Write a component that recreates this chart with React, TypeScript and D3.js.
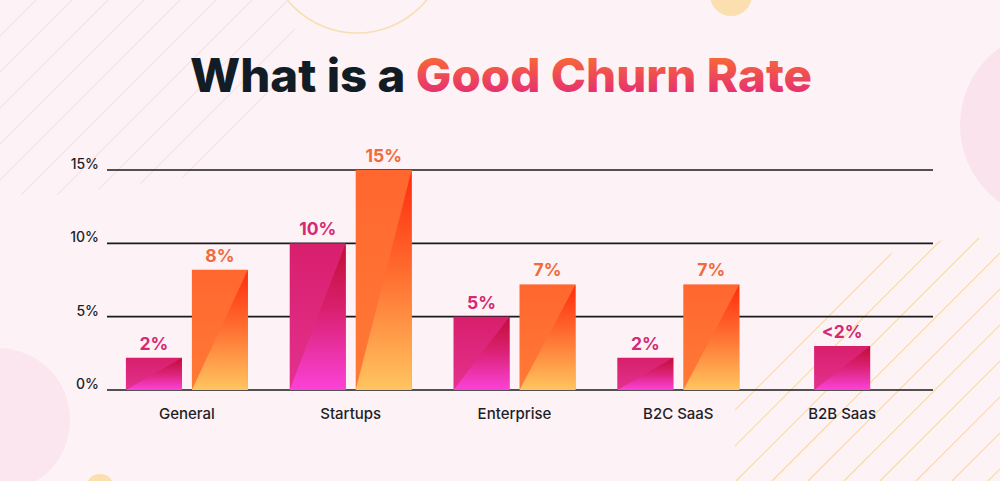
import React from "react";
import * as d3 from "d3";

const categories = ["General", "Startups", "Enterprise", "B2C SaaS", "B2B Saas"];
const pinkValues: number[] = [2.2, 10, 5, 2.2, 3];
const orangeValues: (number | null)[] = [8.2, 15, 7.2, 7.2, null];
const pinkLabels = ["2%", "10%", "5%", "2%", "<2%"];
const orangeLabels = ["8%", "15%", "7%", "7%", ""];
const yTicks = [0, 5, 10, 15];
const titleDark = "What is a ";
const titleColor = "Good Churn Rate";

const W = 1000;
const H = 481;
const FONT = "Inter, 'Open Sans', Lato, sans-serif";

export default function App() {
  const x = d3.scaleBand<string>().domain(categories).range([105, 924]).padding(0);
  const y = d3.scaleLinear().domain([0, 15]).range([390, 170]);
  const barW = 56;
  const gap = 10;

  const bars: { x0: number; v: number; kind: "pink" | "orange"; label: string }[] = [];
  categories.forEach((c, i) => {
    const cx = (x(c) as number) + x.bandwidth() / 2;
    const ov = orangeValues[i];
    if (ov == null) {
      bars.push({ x0: cx - barW / 2, v: pinkValues[i], kind: "pink", label: pinkLabels[i] });
    } else {
      bars.push({ x0: cx - gap / 2 - barW, v: pinkValues[i], kind: "pink", label: pinkLabels[i] });
      bars.push({ x0: cx + gap / 2, v: ov, kind: "orange", label: orangeLabels[i] });
    }
  });

  const tlLines = d3.range(-200, 500, 36);
  const brLines = d3.range(600, 1500, 36);

  return (
    <svg width={W} height={H} style={{ display: "block", position: "absolute", left: 0, top: 0 }}>
      <defs>
        <linearGradient id="pinkBase" x1="0" y1="0" x2="0" y2="1">
          <stop offset="0" stopColor="#d81f6c" />
          <stop offset="1" stopColor="#e3318f" />
        </linearGradient>
        <linearGradient id="pinkTri" x1="0" y1="0" x2="0" y2="1">
          <stop offset="0" stopColor="#c20d35" />
          <stop offset="0.45" stopColor="#d92070" />
          <stop offset="1" stopColor="#fb42d8" />
        </linearGradient>
        <linearGradient id="orangeBase" x1="0" y1="0" x2="0" y2="1">
          <stop offset="0" stopColor="#ff672f" />
          <stop offset="1" stopColor="#ff7a36" />
        </linearGradient>
        <linearGradient id="orangeTri" x1="0" y1="0" x2="0" y2="1">
          <stop offset="0" stopColor="#ff2a0e" />
          <stop offset="0.45" stopColor="#ff6a2e" />
          <stop offset="1" stopColor="#ffc560" />
        </linearGradient>
        <linearGradient id="titleGrad" gradientUnits="userSpaceOnUse" x1="0" y1="56" x2="0" y2="94">
          <stop offset="0" stopColor="#f86a34" />
          <stop offset="1" stopColor="#e42f74" />
        </linearGradient>
        <clipPath id="tlClip">
          <polygon points="0,0 300,0 285,90 200,175 60,195 0,195" />
        </clipPath>
        <clipPath id="brClip">
          <polygon points="735,481 735,405 770,340 860,262 950,238 1000,238 1000,481" />
        </clipPath>
      </defs>

      <rect x={0} y={0} width={W} height={H} fill="#fdf2f6" />

      <circle cx={1055} cy={125} r={95} fill="#fbe3ee" />
      <circle cx={-2} cy={420} r={72} fill="#fbe5ee" />
      <circle cx={731} cy={-5} r={21} fill="#fbdfae" />
      <circle cx={100} cy={488} r={14} fill="#fbdfae" />
      <circle cx={357} cy={-57} r={90} fill="none" stroke="#f6dfb2" strokeWidth={1.5} />
      <g clipPath="url(#tlClip)" stroke="#f3e2e9" strokeWidth={1.1}>
        {tlLines.map((o) => (
          <line key={o} x1={o} y1={200} x2={o + 200} y2={0} />
        ))}
      </g>
      <g clipPath="url(#brClip)" stroke="#f6dbab" strokeWidth={1.2}>
        {brLines.map((o) => (
          <line key={o} x1={o - 260} y1={481} x2={o} y2={221} />
        ))}
      </g>

      <text
        x={501}
        y={92}
        textAnchor="middle"
        fontFamily={FONT}
        fontWeight={800}
        fontSize={46}
        textLength={622}
        lengthAdjust="spacingAndGlyphs"
      >
        <tspan fill="#121c24">{titleDark}</tspan>
        <tspan fill="url(#titleGrad)">{titleColor}</tspan>
      </text>

      {yTicks.map((t) => (
        <g key={t}>
          <line x1={107} x2={933} y1={y(t)} y2={y(t)} stroke="#1a1a1a" strokeWidth={1.6} />
          <text x={99} y={y(t) - 1} textAnchor="end" fontFamily={FONT} fontWeight={500} fontSize={14} fill="#1e1e28">
            {t}%
          </text>
        </g>
      ))}

      {bars.map((b, i) => {
        const x0 = b.x0;
        const x1 = b.x0 + barW;
        const yt = y(b.v);
        const yb = y(0);
        const pts = `${x0},${yb} ${x1},${yt} ${x1},${yb}`;
        return (
          <g key={i}>
            <rect x={x0} y={yt} width={barW} height={yb - yt} fill={`url(#${b.kind}Base)`} />
            <polygon points={pts} fill={`url(#${b.kind}Tri)`} />
            <text
              x={(x0 + x1) / 2}
              y={yt - 8}
              textAnchor="middle"
              fontFamily={FONT}
              fontWeight={700}
              fontSize={17.5}
              fill={b.kind === "pink" ? "#d42a73" : "#f26a3a"}
            >
              {b.label}
            </text>
          </g>
        );
      })}

      {categories.map((c) => (
        <text
          key={c}
          x={(x(c) as number) + x.bandwidth() / 2}
          y={419}
          textAnchor="middle"
          fontFamily={FONT}
          fontWeight={500}
          fontSize={15}
          fill="#1e1e28"
        >
          {c}
        </text>
      ))}
    </svg>
  );
}
